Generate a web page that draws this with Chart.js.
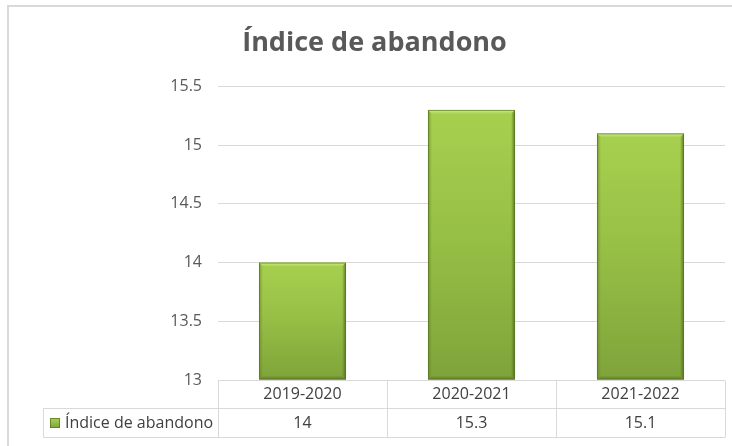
<!DOCTYPE html>
<html>
<head>
<meta charset="utf-8">
<script src="https://cdn.jsdelivr.net/npm/chart.js@4.4.1/dist/chart.umd.min.js"></script>
<style>
    html, body { margin: 0; padding: 0; background: #fff; }
    #wrap { position: relative; width: 732px; height: 446px; overflow: hidden; }
    #frame { position: absolute; left: 7px; top: 5px; width: 760px; height: 480px; border: 2px solid #d9d9d9; box-sizing: border-box; }
    #graph { position: absolute; left: 0; top: 0; }
</style>
</head>
<body>
<div id="wrap">
    <div id="frame"></div>
    <canvas id="graph" width="732" height="446"></canvas>
</div>
<script>
// 데이터
const categories = ['2019-2020', '2020-2021', '2021-2022'];
const seriesName = 'Índice de abandono';
const values = [14, 15.3, 15.1];
const yMin = 13;
const yMax = 15.5;
const yStep = 0.5;

const FONT = "'Open Sans', 'Noto Sans', sans-serif";
const GRID = '#d9d9d9';
const TEXT = '#404040';

function barFill(ctx, top, bottom) {
    const g = ctx.createLinearGradient(0, top, 0, bottom);
    g.addColorStop(0, '#a8d04f');
    g.addColorStop(0.5, '#95be45');
    g.addColorStop(1, '#7fa33a');
    return g;
}

// 막대 입체감 (엑셀 베벨 비슷하게)
const bevel = {
    id: 'bevel',
    afterDatasetsDraw(chart) {
        const ctx = chart.ctx;
        chart.getDatasetMeta(0).data.forEach(bar => {
            const l = bar.x - bar.width / 2;
            const r = bar.x + bar.width / 2;
            const t = bar.y;
            const b = bar.base;
            const e = 4;
            ctx.save();
            // top highlight
            let g = ctx.createLinearGradient(0, t, 0, t + e);
            g.addColorStop(0, 'rgba(215,240,150,0.9)');
            g.addColorStop(1, 'rgba(215,240,150,0)');
            ctx.fillStyle = g;
            ctx.beginPath();
            ctx.moveTo(l, t); ctx.lineTo(r, t); ctx.lineTo(r - e, t + e); ctx.lineTo(l + e, t + e);
            ctx.closePath(); ctx.fill();
            // left side
            g = ctx.createLinearGradient(l, 0, l + e, 0);
            g.addColorStop(0, 'rgba(95,125,35,0.6)');
            g.addColorStop(1, 'rgba(95,125,35,0)');
            ctx.fillStyle = g;
            ctx.beginPath();
            ctx.moveTo(l, t); ctx.lineTo(l + e, t + e); ctx.lineTo(l + e, b - e); ctx.lineTo(l, b);
            ctx.closePath(); ctx.fill();
            // right side
            g = ctx.createLinearGradient(r, 0, r - e, 0);
            g.addColorStop(0, 'rgba(75,100,28,0.8)');
            g.addColorStop(1, 'rgba(75,100,28,0)');
            ctx.fillStyle = g;
            ctx.beginPath();
            ctx.moveTo(r, t); ctx.lineTo(r - e, t + e); ctx.lineTo(r - e, b - e); ctx.lineTo(r, b);
            ctx.closePath(); ctx.fill();
            // bottom
            g = ctx.createLinearGradient(0, b, 0, b - e);
            g.addColorStop(0, 'rgba(75,100,28,0.6)');
            g.addColorStop(1, 'rgba(75,100,28,0)');
            ctx.fillStyle = g;
            ctx.beginPath();
            ctx.moveTo(l, b); ctx.lineTo(r, b); ctx.lineTo(r - e, b - e); ctx.lineTo(l + e, b - e);
            ctx.closePath(); ctx.fill();
            // outline
            ctx.strokeStyle = 'rgba(90,120,35,0.75)';
            ctx.lineWidth = 1;
            ctx.strokeRect(l + 0.5, t + 0.5, r - l - 1, b - t - 1);
            ctx.restore();
        });
    }
};

// 데이터 표 (엑셀 차트의 데이터 테이블)
const dataTable = {
    id: 'dataTable',
    afterDraw(chart) {
        const ctx = chart.ctx;
        const area = chart.chartArea;
        const xs = chart.scales.x;
        const colW = (area.right - area.left) / categories.length;
        const y0 = Math.round(area.bottom) + 0.5;
        const y1 = y0 + 28;
        const y2 = y1 + 29;
        const keyLeft = 43.5;

        ctx.save();
        ctx.strokeStyle = GRID;
        ctx.lineWidth = 1;
        ctx.beginPath();
        ctx.moveTo(area.left, y0); ctx.lineTo(area.right, y0);
        ctx.moveTo(keyLeft, y1); ctx.lineTo(area.right, y1);
        ctx.moveTo(keyLeft, y2); ctx.lineTo(area.right, y2);
        for (let i = 0; i <= categories.length; i++) {
            const x = Math.round(area.left + i * colW) + 0.5;
            ctx.moveTo(x, y0); ctx.lineTo(x, y2);
        }
        ctx.moveTo(keyLeft, y1); ctx.lineTo(keyLeft, y2);
        ctx.stroke();

        ctx.fillStyle = TEXT;
        ctx.font = '16px ' + FONT;
        ctx.textAlign = 'center';
        ctx.textBaseline = 'middle';
        categories.forEach((c, i) => {
            const cx = xs.getPixelForValue(i);
            ctx.fillText(c, cx, (y0 + y1) / 2);
            ctx.fillText(String(values[i]), cx, (y1 + y2) / 2);
        });

        // legend key
        const ky = (y1 + y2) / 2;
        ctx.fillStyle = barFill(ctx, ky - 5, ky + 5);
        ctx.fillRect(50, ky - 5, 10, 10);
        ctx.strokeStyle = 'rgba(90,120,35,0.8)';
        ctx.strokeRect(50.5, ky - 4.5, 9, 9);
        ctx.fillStyle = TEXT;
        ctx.textAlign = 'left';
        ctx.fillText(seriesName, 65, ky);
        ctx.restore();
    }
};

const graph = new Chart(document.getElementById('graph'), {
    type: 'bar',
    data: {
        labels: categories,
        datasets: [{
            label: seriesName,
            data: values,
            base: yMin,
            backgroundColor: function (c) {
                const chart = c.chart;
                if (!chart.chartArea) return '#95be45';
                const y = chart.scales.y;
                return barFill(chart.ctx, y.getPixelForValue(values[c.dataIndex]), y.getPixelForValue(yMin));
            },
            borderWidth: 0,
            categoryPercentage: 1,
            barPercentage: 0.515
        }]
    },
    options: {
        responsive: false,
        animation: false,
        devicePixelRatio: 1,
        layout: {padding: {left: 24, right: 7, top: 0, bottom: 66}},
        plugins: {
            legend: {display: false},
            tooltip: {enabled: false},
            title: {
                display: true,
                text: 'Índice de abandono',
                color: '#595959',
                font: {family: FONT, size: 27, weight: 'bold'},
                padding: {top: 27, bottom: 27}
            }
        },
        scales: {
            x: {display: false},
            y: {
                min: yMin,
                max: yMax,
                afterFit: s => { s.width = 194; },
                border: {display: false},
                grid: {color: GRID, drawTicks: false},
                ticks: {
                    stepSize: yStep,
                    padding: 16,
                    color: '#595959',
                    font: {family: FONT, size: 16},
                    callback: v => String(v)
                }
            }
        }
    },
    plugins: [bevel, dataTable]
});
</script>
</body>
</html>
